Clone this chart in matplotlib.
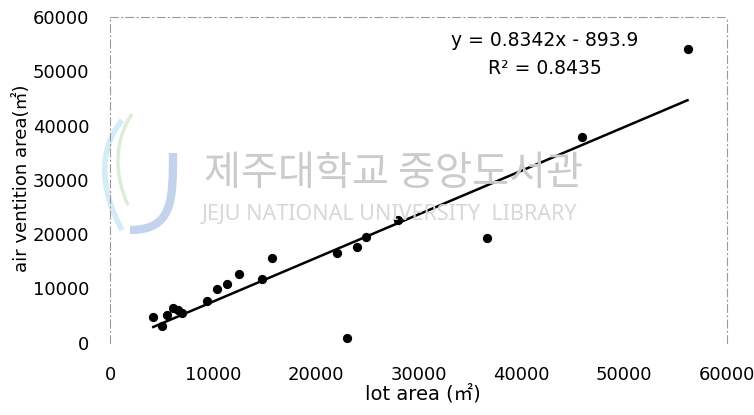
import numpy as np
import matplotlib
matplotlib.use("Agg")
import matplotlib.pyplot as plt
from matplotlib.path import Path
from matplotlib.patches import PathPatch

# values
lot_area = [4210, 5060, 5540, 6160, 6610, 6960, 9470, 10380, 11380, 12550,
            14820, 15790, 22110, 23010, 23980, 24930, 28000, 36640, 45880, 56160]
air_area = [4650, 3040, 5070, 6300, 6080, 5350, 7700, 9810, 10780, 12570,
            11650, 15630, 16440, 920, 17550, 19500, 22580, 19210, 37940, 54100]
ticks = [0, 10000, 20000, 30000, 40000, 50000, 60000]
eq_text = "y = 0.8342x - 893.9"
r2_text = "R\u00b2 = 0.8435"

W, H = 754, 415
fig = plt.figure(figsize=(W / 100, H / 100), dpi=100)


def fp(x, y):
    # pixel (top-left origin) -> figure fraction
    return x / W, 1 - y / H


# watermark of the scanned page
wm = dict(transform=fig.transFigure, ha="center", va="center", zorder=0)
fig.text(*fp(393, 173), "제주대학교 중앙도서관", fontsize=29, color="#cbcbcb",
         family=["Noto Sans CJK KR", "DejaVu Sans"], **wm)
fig.text(*fp(390, 214), "JEJU NATIONAL UNIVERSITY  LIBRARY", fontsize=15.5,
         color="#d8d8d8", family="Noto Sans", **wm)


def curve(pts, color, lw):
    verts = [fp(*p) for p in pts]
    codes = [Path.MOVETO] + [Path.CURVE4] * (len(verts) - 1)
    fig.add_artist(PathPatch(Path(verts, codes), fc="none", ec=color, lw=lw,
                             transform=fig.transFigure, zorder=0))


curve([(122, 120), (98, 150), (100, 190), (122, 230)], "#d3ecf6", 4)
curve([(132, 114), (114, 140), (114, 175), (128, 205)], "#dcedd6", 2.5)
curve([(173, 153), (173, 200), (173, 230), (130, 230)], "#c3d3ec", 6)

ax = fig.add_axes([110 / W, 1 - 342.5 / H, 617 / W, 325.5 / H])
ax.patch.set_alpha(0)

ax.scatter(lot_area, air_area, s=32, color="black", zorder=3)

# linear trendline over the data range
k, b = np.polyfit(lot_area, air_area, 1)
xs = np.array([min(lot_area), max(lot_area)])
ax.plot(xs, k * xs + b, color="black", lw=1.8, zorder=2)

ax.set_xlim(0, 60000)
ax.set_ylim(0, 60000)
ax.set_xticks(ticks)
ax.set_yticks(ticks)
ax.tick_params(length=0, labelsize=13)
ax.tick_params(axis="x", pad=17)
ax.tick_params(axis="y", pad=15)

for side in ["top", "left", "right"]:
    ax.spines[side].set_color("#9a9a9a")
    ax.spines[side].set_linewidth(0.8)
    ax.spines[side].set_linestyle((0, (7, 3, 1, 3)))
ax.spines["bottom"].set_visible(False)

fig.text(*fp(545, 40), eq_text, fontsize=13.5, family="DejaVu Sans",
         ha="center", va="center")
fig.text(*fp(545, 68), r2_text, fontsize=13.5, family="DejaVu Sans",
         ha="center", va="center")

fig.text(*fp(423, 394), "lot area (㎡)", fontsize=14,
         family=["DejaVu Sans", "Noto Sans CJK KR"], ha="center", va="center")
fig.text(*fp(22, 178), "air ventition area(㎡)", fontsize=13,
         rotation=90, family=["DejaVu Sans", "Noto Sans CJK KR"],
         ha="center", va="center")

fig.savefig("out.png", dpi=100)
